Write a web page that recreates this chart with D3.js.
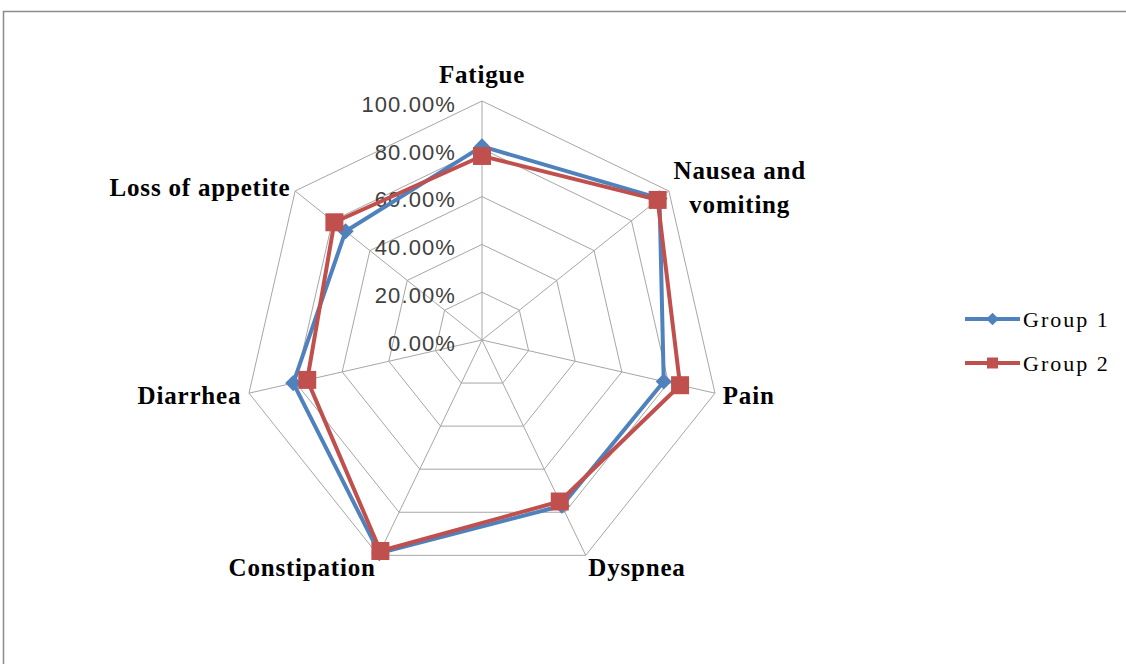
<!DOCTYPE html>
<html>
<head>
<meta charset="utf-8">
<script src="https://cdn.jsdelivr.net/npm/d3@7"></script>
<style>
  body { margin: 0; background: #fff; }
  svg { display: block; }
</style>
</head>
<body>
<div class="radar-chart"></div>
<script>
// chart data
const categories = ['Fatigue', 'Nausea and vomiting', 'Pain', 'Dyspnea', 'Constipation', 'Diarrhea', 'Loss of appetite'];
const group1 = [0.81, 0.95, 0.78, 0.77, 0.99, 0.81, 0.73];
const group2 = [0.77, 0.94, 0.85, 0.75, 0.98, 0.75, 0.79];
const seriesNames = ['Group 1', 'Group 2'];
const tickValues = [0, 0.2, 0.4, 0.6, 0.8, 1.0];

const width = 1126;
const height = 664;
const cx = 482, cy = 340, R = 239;

const svg = d3.select('.radar-chart').append('svg')
  .attr('width', width)
  .attr('height', height);

// outer chart frame (runs off the picture on right/bottom)
svg.append('rect')
  .attr('x', 3.5).attr('y', 11.5)
  .attr('width', 1200).attr('height', 700)
  .attr('fill', 'none')
  .attr('stroke', '#8c8c8c')
  .attr('stroke-width', 1.5);

const r = d3.scaleLinear().domain([0, 1]).range([0, R]);
const angle = d3.scaleLinear().domain([0, categories.length]).range([0, 2 * Math.PI]);

const pt = (i, v) => [cx + r(v) * Math.sin(angle(i)), cy - r(v) * Math.cos(angle(i))];

const g = svg.append('g');

// grid rings
const ring = d3.line();
tickValues.filter(t => t > 0).forEach(t => {
  const pts = categories.map((c, i) => pt(i, t));
  pts.push(pts[0]);
  g.append('path')
    .attr('d', ring(pts))
    .attr('fill', 'none')
    .attr('stroke', '#a6a6a6')
    .attr('stroke-width', 1);
});

// spokes
categories.forEach((c, i) => {
  const p = pt(i, 1);
  g.append('line')
    .attr('x1', cx).attr('y1', cy)
    .attr('x2', p[0]).attr('y2', p[1])
    .attr('stroke', '#a6a6a6')
    .attr('stroke-width', 1);
});

// tick labels
g.selectAll('.tick-label')
  .data(tickValues)
  .enter().append('text')
  .attr('class', 'tick-label')
  .attr('x', cx - 26)
  .attr('y', d => cy - r(d) + 3)
  .attr('dy', '0.35em')
  .attr('text-anchor', 'end')
  .style('font-family', '"Liberation Sans", Arial, sans-serif')
  .style('font-size', '22px')
  .style('letter-spacing', '1.1px')
  .style('fill', '#404040')
  .text(d => d3.format('.2%')(d));

// category labels
categories.forEach((c, i) => {
  const a = angle(i);
  const s = Math.sin(a), co = Math.cos(a);
  const p = pt(i, 1);
  const off = Math.abs(s) > 0.9 ? 8 : 6;
  const x = p[0] + off * s;
  const y = p[1] - off * co;
  const t = g.append('text')
    .style('font-family', '"Liberation Serif", "Times New Roman", serif')
    .style('font-weight', 'bold')
    .style('font-size', '25px')
    .style('letter-spacing', '0.8px')
    .style('fill', '#000');
  let lines = [c];
  if (c === 'Nausea and vomiting') lines = ['Nausea and', 'vomiting'];
  if (co > 0.9) {
    t.attr('x', x).attr('y', y - 12).attr('text-anchor', 'middle').text(c);
  } else if (lines.length > 1) {
    const lh = 34;
    t.attr('text-anchor', 'middle');
    const spans = lines.map((l, k) => t.append('tspan')
      .attr('y', y + (k - (lines.length - 1) / 2) * lh)
      .attr('dy', '0.35em')
      .text(l));
    const w = d3.max(spans, sp => sp.node().getComputedTextLength());
    spans.forEach(sp => sp.attr('x', x + w / 2));
  } else {
    t.attr('x', x)
      .attr('y', co < -0.5 ? y + 7 : y)
      .attr('dy', '0.35em')
      .attr('text-anchor', s > 0.1 ? 'start' : (s < -0.1 ? 'end' : 'middle'))
      .text(c);
  }
});

// series
const colors = ['#4f81bd', '#c0504d'];
const seriesData = [group1, group2];
const square = d3.symbol().type(d3.symbolSquare);
// marker: blue = square turned 45deg (diamond), red = square
const marker = (si, big) => si === 0 ? square.size(big ? 130 : 80)() : square.size(big ? 324 : 121)();
const rot = si => si === 0 ? ' rotate(45)' : '';

seriesData.forEach((vals, si) => {
  const pts = vals.map((v, i) => pt(i, v));
  pts.push(pts[0]);
  g.append('path')
    .attr('d', d3.line()(pts))
    .attr('fill', 'none')
    .attr('stroke', colors[si])
    .attr('stroke-width', 4)
    .attr('stroke-linejoin', 'round');
});

seriesData.forEach((vals, si) => {
  g.selectAll('.m' + si)
    .data(vals)
    .enter().append('path')
    .attr('class', 'm' + si)
    .attr('transform', (v, i) => `translate(${pt(i, v)[0]},${pt(i, v)[1]})` + rot(si))
    .attr('d', marker(si, true))
    .attr('fill', colors[si]);
});

// legend
const legend = svg.append('g');
seriesNames.forEach((name, si) => {
  const ly = 319 + si * 44;
  legend.append('line')
    .attr('x1', 965).attr('x2', 1020)
    .attr('y1', ly).attr('y2', ly)
    .attr('stroke', colors[si])
    .attr('stroke-width', 4);
  legend.append('path')
    .attr('transform', `translate(992.5,${ly})` + rot(si))
    .attr('d', marker(si, false))
    .attr('fill', colors[si]);
  legend.append('text')
    .attr('x', 1023).attr('y', ly)
    .attr('dy', '0.35em')
    .style('font-family', '"Liberation Serif", "Times New Roman", serif')
    .style('font-size', '22px')
    .style('letter-spacing', '2px')
    .style('fill', '#000')
    .text(name);
});
</script>
</body>
</html>
